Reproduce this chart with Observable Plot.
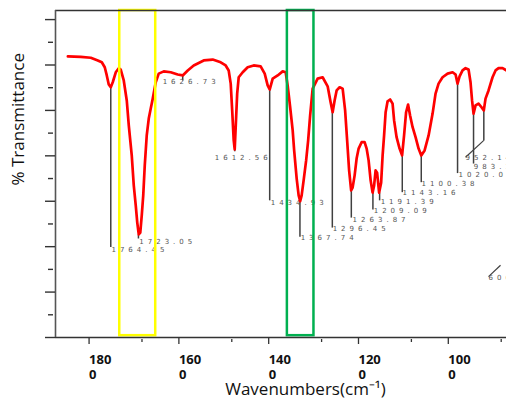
<!DOCTYPE html>
<html><head><meta charset="utf-8">
<script src="https://cdn.jsdelivr.net/npm/d3@7"></script>
<script src="https://cdn.jsdelivr.net/npm/@observablehq/plot@0.6"></script>
<style>
html,body{margin:0;padding:0;background:#fff;overflow:hidden;}
#chart svg{display:block;}
</style></head><body><div id="chart"></div>
<script>
// Spectrum (axis units as drawn)
const wavenumber = [1865,1836.3,1814,1798.4,1789.5,1782.9,1778.4,1774,1769.5,1765.1,
1758.4,1751.7,1747.3,1740.6,1733.9,1729.4,1722.8,1718.3,1713.9,1710.5,
1707.2,1703.8,1700.5,1697.2,1693.8,1689.4,1684.9,1680.5,1676,1669.4,
1662.7,1651.5,1636,1620.4,1609.3,1598.1,1584.8,1562.5,1542.5,1524.7,
1513.6,1506.9,1502.4,1499.1,1495.7,1493.5,1491.3,1488,1484.6,1475.7,
1464.6,1451.2,1435.7,1426.7,1420.1,1415.6,1408.9,1397.8,1386.7,1380,
1375.6,1370,1364.4,1361.1,1355.5,1351.1,1347.7,1344.4,1340,1334.4,
1329.9,1325.5,1319.9,1308.8,1297.7,1286.5,1279.9,1275.4,1271,1266.5,
1259.8,1253.1,1247.6,1243.1,1238.7,1234.2,1230.9,1226.4,1222,1217.5,
1210.9,1204.2,1199.7,1195.3,1190.8,1186.4,1183,1179.7,1176.4,1171.9,
1167.4,1164.1,1160.8,1157.4,1153,1147.4,1141.9,1138.5,1133,1126.3,
1120.7,1116.3,1111.8,1107.4,1102.9,1097.3,1090.7,1084,1078,1070.6,
1061.7,1052.8,1046.2,1039.5,1030.6,1019.4,1008.3,1001.6,997.2,992.7,
986.1,979.4,972.7,968.3,964.9,961.6,957.1,950.5,943.8,938.7,
934.9,928.2,919.3,912.6,905.9,897,888];
const transmittance = [61.9,61.8,61.6,61.0,60.6,59.5,57.7,55.7,55.1,56.2,
58.4,59.3,59.0,56.6,52.2,46.7,40.1,33.5,29.1,25.3,
22.7,23.1,26.9,31.3,37.9,44.5,48.2,50.4,52.6,56.2,
58.1,58.6,58.4,57.9,57.7,58.8,59.9,61.0,61.2,60.6,
59.9,58.8,55.9,50.0,43.4,41.4,46.3,53.7,57.3,58.4,
59.5,59.9,59.7,58.1,55.5,54.6,57.0,57.7,58.6,58.4,
55.5,50.7,45.6,41.2,35.0,31.3,30.0,31.3,34.6,39.0,
43.4,48.9,54.8,57.0,57.3,55.3,51.8,49.6,52.2,54.4,
55.1,54.8,50.0,43.4,36.8,32.4,33.0,35.7,39.4,41.6,
43.0,43.0,41.6,39.0,34.6,31.9,33.5,36.8,36.3,31.9,
34.1,40.1,44.5,49.6,52.0,52.4,51.5,47.8,44.1,41.6,
40.1,44.5,49.6,51.3,48.9,46.3,44.1,41.6,40.1,41.2,
44.5,49.3,53.7,55.9,57.3,58.1,58.4,57.9,55.9,57.5,
58.8,59.3,59.0,56.2,52.2,49.3,51.1,51.5,50.7,50.0,
52.6,54.4,57.3,58.8,59.3,59.3,58.8];

// Peak annotations
const peakLabels = ["1764.45","1723.05","1626.73","1612.56","1434.93","1367.74","1296.45","1263.87","1209.09","1191.39","1143.16","1100.38","1020.05","983.35","952.14","606.52"];
const peakX      = [1769.5,1707.9,1609.3,1493.5,1415.6,1348.2,1276.1,1233.8,1185.7,1170.8,1120.3,1078.0,997.2,961.6,938.7,901.5];
const peakTop    = [55.1,22.7,57.7,41.4,54.6,30.0,49.6,32.4,31.9,31.9,40.1,40.1,55.9,49.3,50.0,15.9];
const peakBottom = [19.9,21.8,56.6,41.0,30.2,22.2,24.2,26.4,28.2,30.2,32.0,34.2,36.2,38.3,43.4,15.9];
const labelX     = [1768,1706,1654,1538,1413.4,1346.6,1275.4,1230.9,1184,1168.5,1119.6,1077.3,995,961,979.4,928.2];
const labelY     = [19.3,21.1,56.4,39.6,29.7,21.9,23.9,26.0,28.0,29.8,31.8,33.9,35.9,37.5,39.5,13.2];
const bendX      = [null,null,null,null,null,null,null,null,null,null,null,null,null,null,979.4,928.2];
const bendY      = [null,null,null,null,null,null,null,null,null,null,null,null,null,null,39.7,13.4];

// Highlight boxes
const boxX1 = [1749.5, 1376.2];
const boxX2 = [1669.4, 1317.0];

// Axes
const xDomain = [1892.6, 888.2];
const yDomain = [0, 72];
const xTicks = [1800, 1600, 1400, 1200, 1000];
const xTickLabels = ["180\n0", "160\n0", "140\n0", "120\n0", "100\n0"];
const xMinor = [1700, 1500, 1300, 1100, 900];
const yMajor = [0, 10, 20, 30, 40, 50, 60, 70];
const yMinor = [5, 15, 25, 35, 45, 55, 65];

const curve = wavenumber.map((w, i) => ({w, t: transmittance[i]}));
const peaks = peakLabels.map((label, i) => ({label, x: peakX[i], top: peakTop[i], bottom: peakBottom[i],
  tx: labelX[i], ty: labelY[i], bx: bendX[i], by: bendY[i]}));
const yellowBox = [{x1: boxX1[0], x2: boxX2[0]}];
const greenBox = [{x1: boxX1[1], x2: boxX2[1]}];

const axisColor = "#333";
const chart = Plot.plot({
  width: 506, height: 403,
  marginLeft: 55, marginRight: 0, marginTop: 10, marginBottom: 66,
  style: {fontFamily: "'Open Sans', sans-serif", background: "#fff", overflow: "hidden"},
  x: {domain: xDomain},
  y: {domain: yDomain},
  marks: [
    Plot.link(peaks, {x1: "x", x2: "x", y1: "top", y2: "bottom", stroke: "#404040", strokeWidth: 1.5}),
    Plot.link(peaks.filter(d => d.bx != null), {x1: "x", y1: "bottom", x2: "bx", y2: "by", stroke: "#404040", strokeWidth: 1.2}),
    Plot.text(peaks, {x: "tx", y: "ty", text: "label", textAnchor: "start", lineAnchor: "middle",
      fontSize: 7, fill: "#555", fontFamily: "'DejaVu Sans', sans-serif"}),
    Plot.line(curve, {x: "w", y: "t", stroke: "#ff0000", strokeWidth: 2.7}),
    Plot.rect(yellowBox, {x1: "x1", x2: "x2", y1: 0.4, y2: yDomain[1], fill: "none", stroke: "#ffff00", strokeWidth: 2.5}),
    Plot.rect(greenBox, {x1: "x1", x2: "x2", y1: 0.4, y2: yDomain[1], fill: "none", stroke: "#00b050", strokeWidth: 2.5}),
    Plot.ruleY([yDomain[0]], {stroke: axisColor, strokeWidth: 1.4}),
    Plot.ruleY([yDomain[1]], {stroke: axisColor, strokeWidth: 1.3}),
    Plot.ruleX([xDomain[0]], {stroke: "#555", strokeWidth: 1.6}),
    Plot.axisY({ticks: yMajor, tickSize: 10, tickFormat: () => "", label: null, stroke: axisColor, strokeWidth: 1.4}),
    Plot.axisY({ticks: yMinor, tickSize: 5, dx: -2, tickFormat: () => "", label: null, stroke: axisColor, strokeWidth: 1.4}),
    Plot.axisX({ticks: xTicks, tickSize: 7, tickPadding: 8, label: null, stroke: axisColor, strokeWidth: 1.3,
      tickFormat: d => xTickLabels[xTicks.indexOf(d)], textAnchor: "start", dx: -8,
      fontSize: 13, fontWeight: "bold", lineHeight: 1.2, fill: "#111"}),
    Plot.axisX({ticks: xMinor, tickSize: 3, dy: 2, tickFormat: () => "", label: null, stroke: axisColor, strokeWidth: 1.3}),
    Plot.text(["% Transmittance"], {text: d => d, frameAnchor: "left", rotate: -90, dx: -37, dy: 11.5,
      fontSize: 17, fill: "#111", lineAnchor: "middle"}),
    Plot.text(["Wavenumbers(cm⁻¹)"], {text: d => d, frameAnchor: "bottom", dx: 24.5, dy: 57,
      lineAnchor: "bottom", fontSize: 17, fill: "#111"})
  ]
});
chart.querySelectorAll('g[font-size="7"] text').forEach(t => t.style.letterSpacing = "4px");
document.getElementById("chart").appendChild(chart);
</script></body></html>
